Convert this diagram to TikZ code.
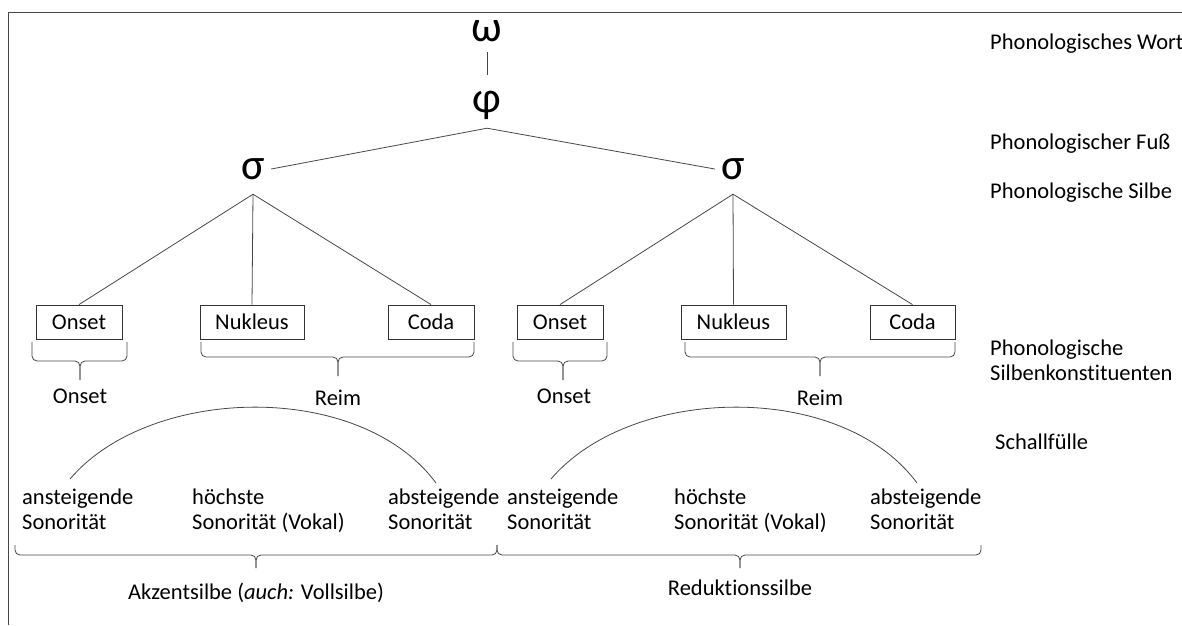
\documentclass[tikz,border=0pt]{standalone}
\usepackage{fontspec}
\setmainfont{Carlito}[Ligatures=NoCommon]
\newcommand{\hbr}[6]{%
  \draw[brc] (#1,#4) -- (#1,#4+#5) -- (#3,#4+#5) -- (#3,#4+#6);
  \draw[brc] (#2,#4) -- (#2,#4+#5) -- (#3,#4+#5) -- (#3,#4+#6);}
\begin{document}
\begin{tikzpicture}[x=1pt,y=-1pt,
  every node/.style={font=\fontsize{22.5}{25}\selectfont, text=black, inner sep=0pt},
  ln/.style={draw=black!72, line width=0.8pt},
  greek/.style={font=\fontsize{44}{44}\selectfont, minimum width=36pt, minimum height=50pt},
  cbox/.style={draw=black!80, line width=0.9pt, minimum height=34pt},
  lab/.style={anchor=west, align=left},
  two/.style={anchor=base west, align=left},
  brc/.style={ln, rounded corners=5pt}]
\useasboundingbox (0,0) rectangle (1182,625);
\draw[ln] (8,625) -- (8,12) -- (1182,12);

% tree
\node[greek, minimum height=42pt] (om) at (487,31) {ω};
\node[greek, minimum height=46pt] (phi) at (487,105) {φ};
\node[greek] (sl) at (253,169) {σ};
\node[greek] (sr) at (733,169) {σ};
\draw[ln, shorten >=7pt] (om.south) -- (phi.north);
\draw[ln] (phi.south) -- (sl.east);
\draw[ln] (phi.south) -- (sr.west);

\node[cbox, minimum width=86pt] (on1) at (79,322) {Onset};
\node[cbox, minimum width=104pt] (nu1) at (252,322) {Nukleus};
\node[cbox, minimum width=86pt] (co1) at (431,322) {Coda};
\node[cbox, minimum width=86pt] (on2) at (560,322) {Onset};
\node[cbox, minimum width=105pt] (nu2) at (733.5,322) {Nukleus};
\node[cbox, minimum width=85pt] (co2) at (912.5,322) {Coda};

\draw[ln] (sl.south) -- (on1.north);
\draw[ln] (sl.south) -- (nu1.north);
\draw[ln] (sl.south) -- (co1.north);
\draw[ln] (sr.south) -- (on2.north);
\draw[ln] (sr.south) -- (nu2.north);
\draw[ln] (sr.south) -- (co2.north);

% braces under boxes
\hbr{32}{127}{80}{342}{19}{38}
\hbr{201}{474}{338}{342}{15}{34}
\hbr{513}{607}{563}{342}{19}{38}
\hbr{685}{955}{820}{342}{15}{34}
\node (bo1) at (80,396) {Onset};
\node (re1) at (338,398) {Reim};
\node (bo2) at (564,396) {Onset};
\node (re2) at (820,398) {Reim};

% sonority arcs
\draw[ln] (70,479) .. controls (150,385) and (360,380) .. (436,483);
\draw[ln] (551,479) .. controls (631,385) and (841,380) .. (917,483);

\node[two] (a1) at (22,529) {ansteigende\\Sonorität};
\node[two] (h1) at (192,529) {höchste\\Sonorität (Vokal)};
\node[two] (b1) at (388,529) {absteigende\\Sonorität};
\node[two] (a2) at (507,529) {ansteigende\\Sonorität};
\node[two] (h2) at (674,529) {höchste\\Sonorität (Vokal)};
\node[two] (b2) at (870,529) {absteigende\\Sonorität};

% bottom braces
\hbr{15}{497}{256}{545}{10}{23}
\hbr{497}{981}{740}{545}{10}{23}
\node (ak) at (256,593) {Akzentsilbe (\textit{auch:} Vollsilbe)};
\node (rd) at (740,588) {Reduktionssilbe};

% level labels
\node[lab] (l1) at (990,44) {Phonologisches Wort};
\node[lab] (l2) at (990,144) {Phonologischer Fuß};
\node[lab] (l3) at (990,193) {Phonologische Silbe};
\node[lab] (l4) at (990,360) {Phonologische\\Silbenkonstituenten};
\node[lab] (l5) at (995,442) {Schallfülle};
\end{tikzpicture}
\end{document}
